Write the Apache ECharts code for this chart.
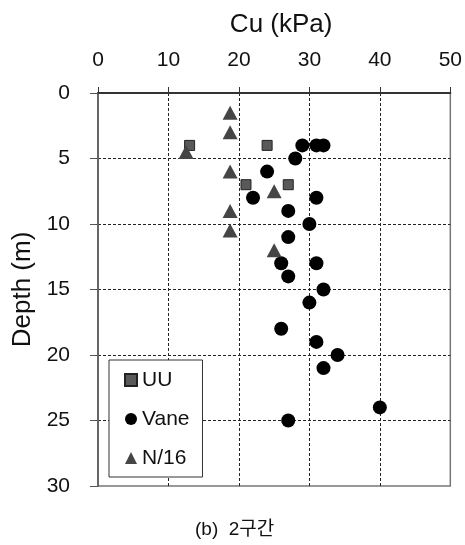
<!DOCTYPE html>
<html>
<head>
<meta charset="utf-8">
<script src="https://cdn.jsdelivr.net/npm/echarts@6/dist/echarts.min.js"></script>
<style>
  html, body { margin: 0; padding: 0; background: #fff; }
  #main { width: 465px; height: 545px; }
</style>
</head>
<body>
<div id="main"></div>
<script>
// [Cu (kPa), depth (m)]
var uuData = [[13, 4], [24, 4], [21, 7], [27, 7]];
var vaneData = [
  [29, 4], [31, 4], [32, 4], [28, 5], [24, 6], [22, 8], [31, 8], [27, 9],
  [30, 10], [27, 11], [26, 13], [31, 13], [27, 14], [32, 15], [30, 16],
  [26, 18], [31, 19], [34, 20], [32, 21], [40, 24], [27, 25]
];
var nData = [
  [18.75, 1.5], [18.75, 3], [12.5, 4.5], [18.75, 6], [25, 7.5],
  [18.75, 9], [18.75, 10.5], [25, 12]
];

var font = "'Liberation Sans', Arial, sans-serif";

var chartDom = document.getElementById('main');
var myChart = echarts.init(chartDom, null, { renderer: 'canvas' });
var option;

var dashed = { color: '#222', width: 1, type: [3, 2] };

option = {
  backgroundColor: '#fff',
  animation: false,
  grid: {
    left: 98, right: 13, top: 93, bottom: 59,
    show: true, borderColor: '#777', borderWidth: 1.5
  },
  xAxis: {
    type: 'value',
    position: 'top',
    min: 0, max: 50, interval: 10,
    name: 'Cu (kPa)',
    nameLocation: 'middle',
    nameGap: 55,
    nameTextStyle: { fontFamily: font, fontSize: 26, color: '#111', padding: [0, 0, 0, 14] },
    axisLine: { lineStyle: { color: '#333', width: 2 } },
    axisTick: { show: true, length: 6, lineStyle: { color: '#333' } },
    axisLabel: { fontFamily: font, fontSize: 21, color: '#111', margin: 22 },
    splitLine: { show: true, showMinLine: false, showMaxLine: false, lineStyle: dashed }
  },
  yAxis: {
    type: 'value',
    inverse: true,
    min: 0, max: 30, interval: 5,
    name: 'Depth (m)',
    nameLocation: 'middle',
    nameGap: 56,
    nameTextStyle: { fontFamily: font, fontSize: 26, color: '#111' },
    axisLine: { lineStyle: { color: '#666', width: 2 } },
    axisTick: { show: true, length: 8, lineStyle: { color: '#555' } },
    axisLabel: { fontFamily: font, fontSize: 21, color: '#111', margin: 28 },
    splitLine: { show: true, showMinLine: false, showMaxLine: false, lineStyle: dashed }
  },
  legend: {
    orient: 'vertical',
    left: 109, top: 360,
    padding: [9, 13, 8, 15],
    backgroundColor: '#fff',
    borderColor: '#333',
    borderWidth: 1,
    borderRadius: 0,
    itemWidth: 12, itemHeight: 12,
    itemGap: 17,
    textStyle: { fontFamily: font, fontSize: 21, color: '#111', lineHeight: 22 },
    data: [
      { name: 'UU', icon: 'rect' },
      { name: 'Vane', icon: 'circle' },
      { name: 'N/16', icon: 'triangle' }
    ]
  },
  graphic: [{
    type: 'text',
    left: 195, top: 520,
    style: { text: '(b)  2구간', font: "19px 'Liberation Sans', 'Noto Sans CJK KR', sans-serif", fill: '#111' }
  }],
  series: [{
    name: 'UU',
    type: 'scatter',
    symbol: 'rect',
    symbolSize: 10,
    itemStyle: { color: '#595959', borderColor: '#222', borderWidth: 1, opacity: 1 },
    data: uuData
  }, {
    name: 'Vane',
    type: 'scatter',
    symbol: 'circle',
    symbolSize: 14,
    itemStyle: { color: '#000', opacity: 1 },
    data: vaneData
  }, {
    name: 'N/16',
    type: 'scatter',
    symbol: 'triangle',
    symbolSize: [15, 14],
    itemStyle: { color: '#454545', opacity: 1 },
    data: nData
  }]
};

option && myChart.setOption(option);
</script>
</body>
</html>
